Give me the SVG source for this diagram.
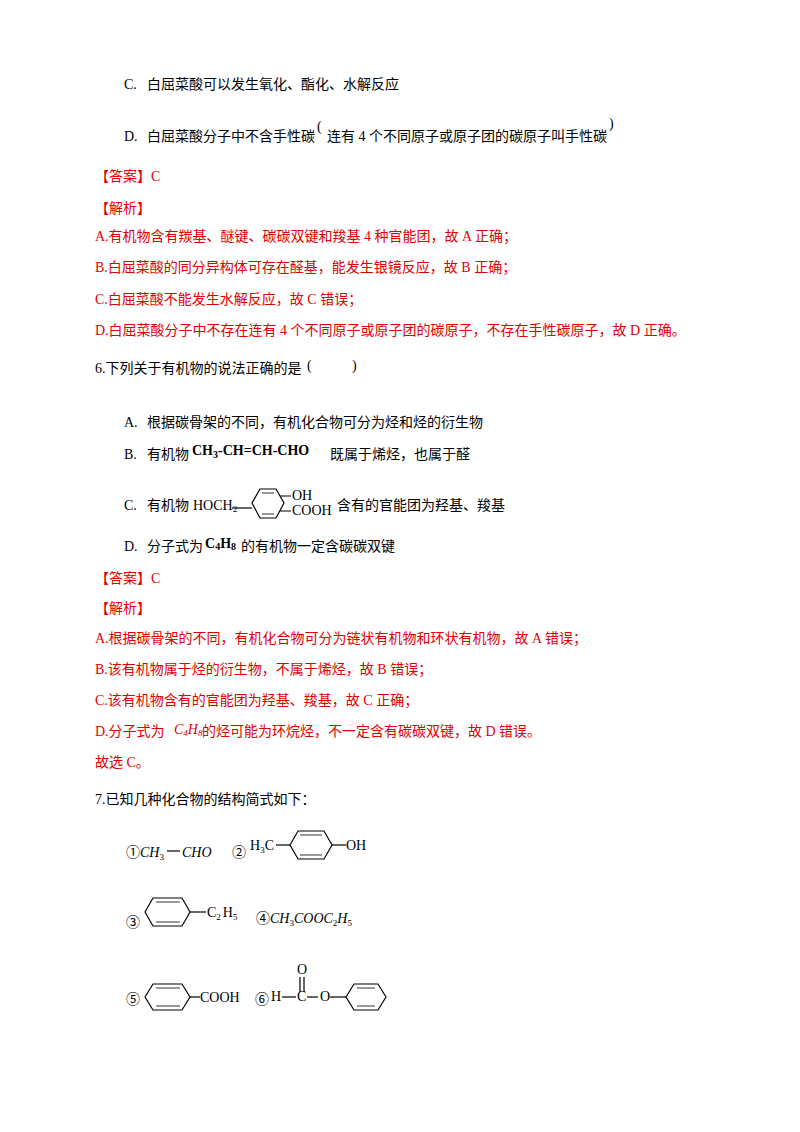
<svg xmlns="http://www.w3.org/2000/svg" width="800" height="1132" viewBox="0 0 800 1132">
<style>
text{font-family:"Liberation Serif","Noto Sans CJK SC",serif;font-size:14px;fill:#000}
.r{fill:#e00000}
.b{font-weight:bold}
.i{font-style:italic}
.ln{stroke:#000;stroke-width:1.2;fill:none}
</style>
<rect width="800" height="1132" fill="#fff"/>
<text x="124" y="89">C.</text><text x="147" y="89">白屈菜酸可以发生氧化、酯化、水解反应</text>
<text x="124" y="141">D.</text><text x="147" y="141">白屈菜酸分子中不含手性碳</text>
<text x="317" y="131" font-size="12">(</text>
<text x="327" y="141">连有 4 个不同原子或原子团的碳原子叫手性碳</text>
<text x="609" y="128" font-size="12">)</text>
<text x="95" y="181" class="r">【答案】C</text>
<text x="95" y="213" class="r">【解析】</text>
<text x="95" y="241" class="r">A.有机物含有羰基、醚键、碳碳双键和羧基 4 种官能团，故 A 正确；</text>
<text x="95" y="272" class="r">B.白屈菜酸的同分异构体可存在醛基，能发生银镜反应，故 B 正确；</text>
<text x="95" y="304" class="r">C.白屈菜酸不能发生水解反应，故 C 错误；</text>
<text x="95" y="335" class="r">D.白屈菜酸分子中不存在连有 4 个不同原子或原子团的碳原子，不存在手性碳原子，故 D 正确。</text>
<text x="95" y="373">6.下列关于有机物的说法正确的是</text>
<text x="307" y="370" font-size="15">(</text><text x="352" y="370" font-size="15">)</text>
<text x="124" y="427">A.</text><text x="147" y="427">根据碳骨架的不同，有机化合物可分为烃和烃的衍生物</text>
<text x="124" y="459">B.</text><text x="147" y="459">有机物</text>
<text x="192" y="455" class="b" font-size="15">CH<tspan font-size="10" dy="3">3</tspan><tspan dy="-3">-CH=CH-CHO</tspan></text>
<text x="330" y="459">既属于烯烃，也属于醛</text>
<text x="124" y="510">C.</text><text x="147" y="510">有机物</text>
<text x="193" y="510" font-size="12">HOCH<tspan font-size="9" dy="2">2</tspan></text>
<g class="ln"><path d="M232 508 H252"/><path d="M252 503 L260 489 L276 489 L284 503 L276 518 L260 518 Z"/><path d="M262 493 L274 493 M262 514 L274 514" stroke-width="0.8"/><path d="M280 496 H291 M280 511 H291"/></g>
<text x="292" y="500" font-size="12">OH</text>
<text x="292" y="515" font-size="12">COOH</text>
<text x="337" y="510">含有的官能团为羟基、羧基</text>
<text x="124" y="551">D.</text><text x="147" y="551">分子式为</text>
<text x="205" y="548" class="b" font-size="15">C<tspan font-size="10" dy="2">4</tspan><tspan dy="-2">H</tspan><tspan font-size="10" dy="2">8</tspan></text>
<text x="241" y="551">的有机物一定含碳碳双键</text>
<text x="95" y="583" class="r">【答案】C</text>
<text x="95" y="613" class="r">【解析】</text>
<text x="95" y="643" class="r">A.根据碳骨架的不同，有机化合物可分为链状有机物和环状有机物，故 A 错误；</text>
<text x="95" y="674" class="r">B.该有机物属于烃的衍生物，不属于烯烃，故 B 错误；</text>
<text x="95" y="705" class="r">C.该有机物含有的官能团为羟基、羧基，故 C 正确；</text>
<text x="95" y="736" class="r">D.分子式为</text>
<text x="174" y="734" class="r i">C<tspan font-size="9" dy="2">4</tspan><tspan dy="-2">H</tspan><tspan font-size="9" dy="2">8</tspan></text>
<text x="202" y="736" class="r">的烃可能为环烷烃，不一定含有碳碳双键，故 D 错误。</text>
<text x="95" y="767" class="r">故选 C。</text>
<text x="95" y="804">7.已知几种化合物的结构简式如下：</text>
<g id="s1"><text x="126" y="857">①<tspan class="i">CH</tspan><tspan font-size="9" dy="3">3</tspan></text><path class="ln" d="M167 851 H180"/><text x="182" y="857" class="i">CHO</text></g>
<g id="s2"><text x="232" y="857">②</text><text x="250" y="850" font-size="14">H<tspan font-size="9" dy="3">3</tspan><tspan dy="-3">C</tspan></text>
<g class="ln"><path d="M276 845 H290"/><path d="M290 845 L298 831 L324 831 L332 845 L324 859 L298 859 Z"/><path d="M300 835 L322 835 M300 855 L322 855" stroke-width="0.8"/><path d="M332 845 H346"/></g>
<text x="346" y="850">OH</text></g>
<g id="s3"><text x="126" y="927">③</text>
<g class="ln"><path d="M145 912 L153 898 L182 898 L190 912 L182 926 L153 926 Z"/><path d="M156 902 L180 902 M156 922 L180 922" stroke-width="0.8"/><path d="M190 912 H206"/></g>
<text x="207" y="917" font-size="13">C<tspan font-size="9" dy="3">2</tspan><tspan dx="2" dy="-3">H</tspan><tspan font-size="9" dy="3">5</tspan></text></g>
<g id="s4"><text x="256" y="923">④<tspan class="i">CH</tspan><tspan font-size="9" dy="3">3</tspan><tspan class="i" dy="-3">COOC</tspan><tspan font-size="9" dy="3">2</tspan><tspan class="i" dy="-3">H</tspan><tspan font-size="9" dy="3">5</tspan></text></g>
<g id="s5"><text x="126" y="1004">⑤</text>
<g class="ln"><path d="M145 997 L153 984 L182 984 L190 997 L182 1010 L153 1010 Z"/><path d="M156 988 L180 988 M156 1006 L180 1006" stroke-width="0.8"/><path d="M190 997 H200"/></g>
<text x="200" y="1002" font-size="13">COOH</text></g>
<g id="s6"><text x="255" y="1004">⑥</text><text x="271" y="1001" font-size="13">H</text>
<path class="ln" d="M282 997 H296"/><text x="297" y="1001" font-size="13">C</text>
<text x="297" y="974" font-size="13">O</text><path class="ln" d="M300 977 V992 M304 977 V992"/>
<path class="ln" d="M307 997 H318"/><text x="320" y="1001" font-size="13">O</text><path class="ln" d="M330 997 H346"/>
<g class="ln"><path d="M346 997 L354 984 L378 984 L386 997 L378 1010 L354 1010 Z"/><path d="M357 988 L375 988 M357 1006 L375 1006" stroke-width="0.8"/></g></g>
</svg>
